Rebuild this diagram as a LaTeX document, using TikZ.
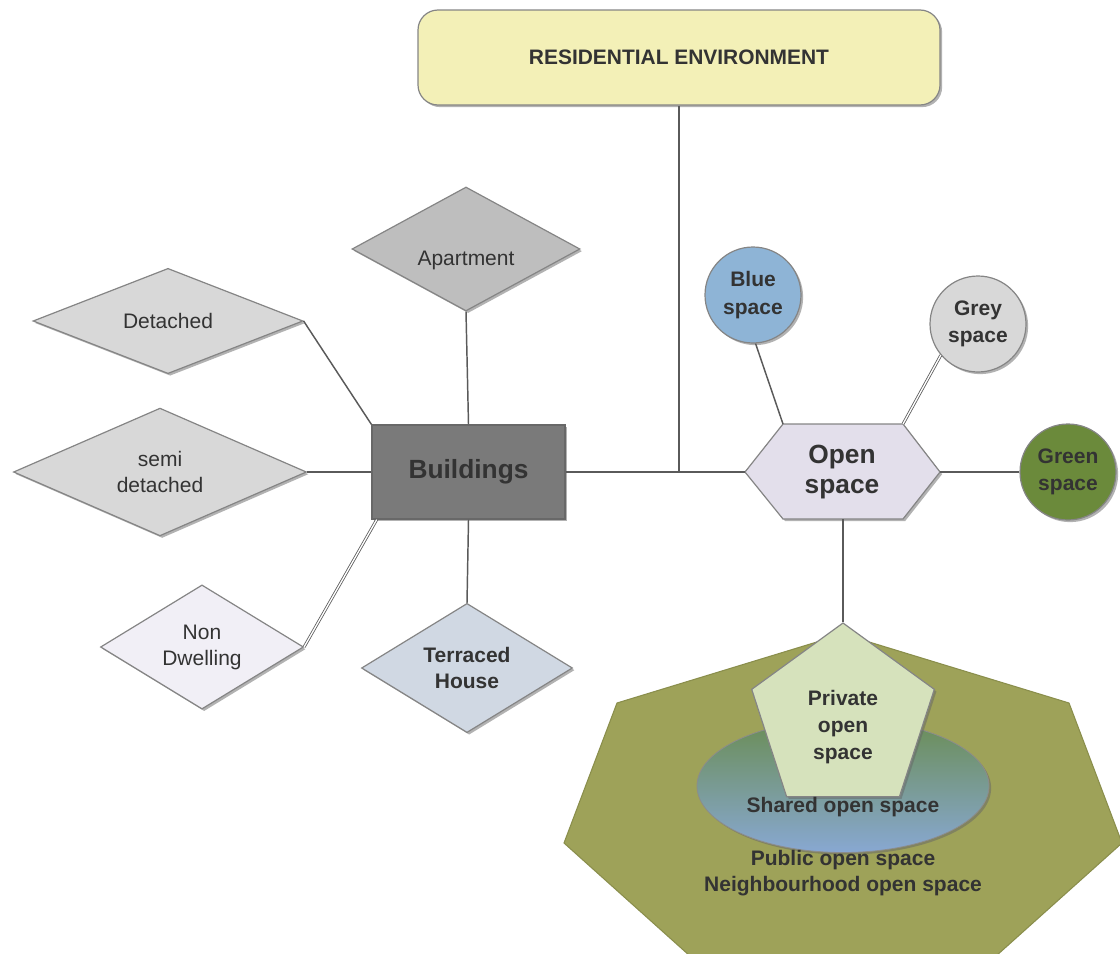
\documentclass[tikz,border=0pt]{standalone}
\usepackage{fontspec}
\setmainfont{Liberation Sans}
\usetikzlibrary{shapes.geometric,shadows,calc}

\definecolor{txt}{HTML}{333333}
\definecolor{edge}{HTML}{5A5A5A}
\definecolor{rim}{HTML}{858585}
\definecolor{resfill}{HTML}{F3F0B7}
\definecolor{aptfill}{HTML}{BEBEBE}
\definecolor{lightgrey}{HTML}{D8D8D8}
\definecolor{nonfill}{HTML}{F1EFF6}
\definecolor{terrfill}{HTML}{D0D8E3}
\definecolor{bldfill}{HTML}{7A7A7A}
\definecolor{hexfill}{HTML}{E3DFEB}
\definecolor{bluefill}{HTML}{8EB4D6}
\definecolor{greenfill}{HTML}{6B8A3B}
\definecolor{pentfill}{HTML}{D6E2BC}
\definecolor{elltop}{HTML}{6A8D55}
\definecolor{ellbot}{HTML}{88A8D2}
\definecolor{heptfill}{HTML}{9EA259}
\definecolor{heptrim}{HTML}{8A8E4C}

\tikzset{
  wh/.style 2 args={minimum width=#1*0.75pt, minimum height=#2*0.75pt},
  shade/.style={drop shadow={shadow xshift=1.6pt, shadow yshift=-1.6pt, opacity=0.5, fill=black!60}},
  lbl/.style={text=txt, align=center, font=\fontsize{15.75}{19.5}\selectfont},
  blbl/.style={text=txt, align=center, font=\fontsize{15.75}{20}\selectfont\bfseries},
  biglbl/.style={text=txt, align=center, font=\fontsize{19.75}{22.5}\selectfont\bfseries},
  shapeline/.style={draw=rim, line width=0.9pt},
  dia/.style={diamond, shapeline, shade, inner sep=0pt, lbl},
  ring/.style={circle, shapeline, shade, inner sep=0pt, minimum size=96*0.75pt, blbl, font=\fontsize{15.75}{20.5}\selectfont\bfseries},
  link/.style={draw=edge, line width=1.1pt},
  dlink/.style={draw=edge, line width=0.6pt, double=white, double distance=1pt},
}

\begin{document}
\begin{tikzpicture}[x=0.75pt, y=-0.75pt]
\clip (0,0) rectangle (1120,953);

% top heading box
\node[rectangle, rounded corners=15pt, shapeline, fill=resfill, shade, wh={522}{95},
      blbl, font=\fontsize{15.7}{19}\selectfont\bfseries] (res) at (679,57.5) {RESIDENTIAL ENVIRONMENT};

% buildings branch
\node[rectangle, draw=bldfill!85!black, line width=0.9pt, fill=bldfill, shade, wh={193}{94}, biglbl] (bld) at (468.5,472) {Buildings};
\node[dia, fill=aptfill, wh={228}{124}] (apt) at (466,249) {};
\node[lbl] (apttxt) at (466,260) {Apartment};
\node[dia, fill=lightgrey, wh={270}{103}] (det) at (168,321) {Detached};
\node[dia, fill=lightgrey, wh={293}{120}] (semi) at (160,472) {semi\\detached};
\node[dia, fill=nonfill, wh={203}{121}] (nond) at (202,647) {Non\\Dwelling};
\node[dia, fill=terrfill, wh={211}{124}, blbl] (terr) at (467,668) {Terraced\\House};

% open space hexagon
\coordinate (hW) at (745,472);
\coordinate (hNW) at (783,424);
\coordinate (hNE) at (903,424);
\coordinate (hE) at (940,472);
\coordinate (hSE) at (903,519);
\coordinate (hSW) at (783,519);
\coordinate (hS) at (843,519);
\draw[shapeline, fill=hexfill, shade] (hW) -- (hNW) -- (hNE) -- (hE) -- (hSE) -- (hSW) -- cycle;
\node[biglbl] (open) at (842,472) {Open\\space};

% kinds of open space
\node[ring, fill=bluefill] (blue) at (753,295) {Blue\\space};
\node[ring, fill=lightgrey] (grey) at (978,324) {Grey\\space};
\node[ring, fill=greenfill] (green) at (1068,472) {Green\\space};

% nested open space levels
\draw[draw=heptrim, line width=0.8pt, fill=heptfill]
  (843,634) -- (1069,703) -- (1122,843) -- (967,982) -- (719,982) -- (564,843) -- (617,703) -- cycle;
\node[ellipse, draw=black!45, line width=0.6pt, top color=elltop, bottom color=ellbot, shade, wh={292}{133}] (shared) at (843,786) {};
\node[regular polygon, regular polygon sides=5, shapeline, fill=pentfill, shade, minimum size=192*0.75pt, inner sep=0pt] (pent) at (843,719) {};
\node[blbl] (pvt) at (843,727) {Private\\open\\space};
\node[blbl] (sharedtxt) at (843,807) {Shared open space};
\node[blbl, font=\fontsize{15.75}{19.5}\selectfont\bfseries] (public) at (843,873) {Public open space\\Neighbourhood open space};

% connectors
\coordinate (jn) at (res.south |- bld.east);
\draw[link] (res.south) -- (jn);
\draw[link] (bld.east) -- (hW);
\draw[link] (apt.south) -- (bld.north);
\draw[link] (det.east) -- (bld.north west);
\draw[link] (semi.east) -- (bld.west);
\draw[dlink] (nond.east) -- ([xshift=4pt]bld.south west);
\draw[link] (bld.south) -- (terr.north);
\draw[link] (blue.-87) -- (hNW);
\draw[dlink] (grey.220) -- (hNE);
\draw[link] (hE) -- (green.west);
\draw[link] (hS) -- (pent.corner 1);
\end{tikzpicture}
\end{document}
